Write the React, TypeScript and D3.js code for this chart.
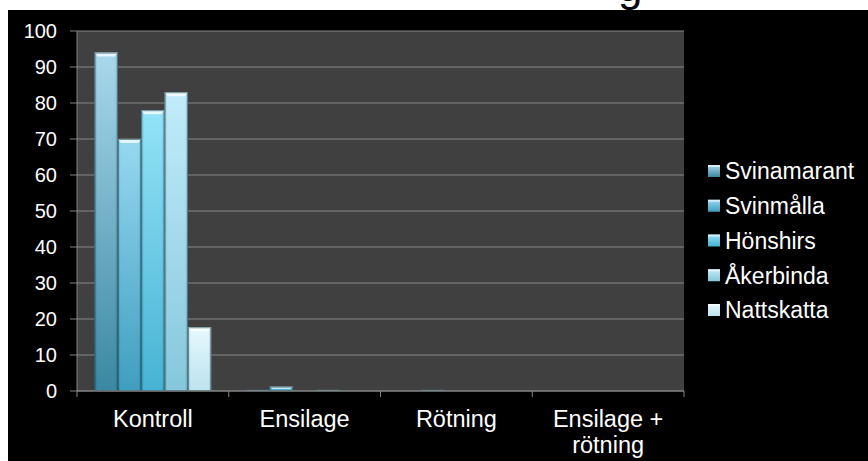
import React from "react";
import * as d3 from "d3";

const categories = ["Kontroll", "Ensilage", "Rötning", "Ensilage + rötning"];
const categoryLines = [["Kontroll"], ["Ensilage"], ["Rötning"], ["Ensilage +", "rötning"]];
const seriesNames = ["Svinamarant", "Svinmålla", "Hönshirs", "Åkerbinda", "Nattskatta"];
const svinamarant = [94, 0.3, 0, 0];
const svinmalla = [70, 1.2, 0.3, 0];
const honshirs = [78, 0, 0, 0];
const akerbinda = [83, 0.3, 0, 0];
const nattskatta = [17.7, 0, 0, 0];
const seriesValues = [svinamarant, svinmalla, honshirs, akerbinda, nattskatta];
const yTicks = [0, 10, 20, 30, 40, 50, 60, 70, 80, 90, 100];
const topColors = ["#a9d8ec", "#97d8f1", "#93e3f7", "#c2ecf9", "#e6f8fd"];
const bottomColors = ["#3a88a2", "#3f9ebf", "#47b3d4", "#86c7dc", "#bce3ef"];

const W = 868;
const H = 461;
const plot = { left: 77, right: 684, top: 31, bottom: 391 };
const FONT = "'Liberation Sans', Arial, sans-serif";

export default function App() {
  const x0 = d3.scaleBand<string>().domain(categories).range([plot.left, plot.right]).padding(0);
  const x1 = d3
    .scaleBand<string>()
    .domain(seriesNames)
    .range([0, x0.bandwidth()])
    .paddingInner(0)
    .paddingOuter(0.75);
  const y = d3.scaleLinear().domain([0, 100]).range([plot.bottom, plot.top]);

  const legendY = d3.scalePoint<string>().domain(seriesNames).range([171, 310]);

  return (
    <svg
      width={W}
      height={H}
      style={{ position: "absolute", left: 0, top: 0, display: "block" }}
      fontFamily={FONT}
    >
      <defs>
        {seriesNames.map((s, i) => (
          <linearGradient key={s} id={`g${i}`} x1="0" y1="0" x2="0" y2="1">
            <stop offset="0" stopColor={topColors[i]} />
            <stop offset="1" stopColor={bottomColors[i]} />
          </linearGradient>
        ))}
        {seriesNames.map((s, i) => (
          <linearGradient key={s + "h"} id={`h${i}`} x1="0" y1="0" x2="1" y2="0">
            <stop offset="0" stopColor="#000" stopOpacity={0.18} />
            <stop offset="0.12" stopColor="#000" stopOpacity={0} />
            <stop offset="0.88" stopColor="#000" stopOpacity={0} />
            <stop offset="1" stopColor="#000" stopOpacity={0.18} />
          </linearGradient>
        ))}
      </defs>
      <rect x={0} y={0} width={W} height={H} fill="#ffffff" />
      <text x={618} y={1} fontSize={44} fill="#000" fontFamily={FONT}>
        g
      </text>
      <rect x={8} y={10} width={W - 8} height={H - 10} fill="#000000" />

      {/* plot area */}
      <rect
        x={plot.left}
        y={plot.top}
        width={plot.right - plot.left}
        height={plot.bottom - plot.top}
        fill="#404040"
      />
      {yTicks.map((t) => (
        <g key={t}>
          <line x1={plot.left} x2={plot.right} y1={y(t)} y2={y(t)} stroke="#858585" strokeWidth={1} />
          <line x1={70} x2={plot.left} y1={y(t)} y2={y(t)} stroke="#858585" strokeWidth={1} />
          <text
            x={57}
            y={y(t)}
            dy="0.36em"
            textAnchor="end"
            fontSize={20}
            fill="#ffffff"
          >
            {t}
          </text>
        </g>
      ))}
      <line x1={plot.left} x2={plot.left} y1={plot.top} y2={plot.bottom + 6} stroke="#858585" />
      {categories.map((c) => (
        <line
          key={c}
          x1={(x0(c) as number) + x0.bandwidth()}
          x2={(x0(c) as number) + x0.bandwidth()}
          y1={plot.bottom}
          y2={plot.bottom + 6}
          stroke="#858585"
        />
      ))}

      {/* bars */}
      {categories.map((c, ci) => (
        <g key={c}>
          {seriesNames.map((s, si) => {
            const v = seriesValues[si][ci];
            if (!v) return null;
            const bx = (x0(c) as number) + (x1(s) as number);
            const bw = x1.bandwidth();
            const by = y(v);
            const bh = plot.bottom - by;
            const bev = Math.min(4, bh / 2);
            return (
              <g key={s}>
                <rect x={bx} y={by} width={bw} height={bh} fill={`url(#g${si})`} />
                <rect x={bx} y={by} width={bw} height={bh} fill={`url(#h${si})`} />
                <path
                  d={`M${bx},${by}L${bx + bw},${by}L${bx + bw - 3},${by + bev}L${bx + 3},${by + bev}Z`}
                  fill="#ffffff"
                  fillOpacity={0.75}
                />
                <rect
                  x={bx + 0.5}
                  y={by + 0.5}
                  width={bw - 1}
                  height={Math.max(0, bh - 1)}
                  fill="none"
                  stroke="#1f4f5e"
                  strokeOpacity={0.6}
                  strokeWidth={1}
                />
              </g>
            );
          })}
        </g>
      ))}
      <line x1={plot.left} x2={plot.right} y1={plot.bottom} y2={plot.bottom} stroke="#858585" />

      {/* x labels */}
      {categories.map((c, ci) => (
        <text
          key={c}
          x={(x0(c) as number) + x0.bandwidth() / 2}
          y={427}
          textAnchor="middle"
          fontSize={23.5}
          fill="#ffffff"
        >
          {categoryLines[ci].map((ln, li) => (
            <tspan key={li} x={(x0(c) as number) + x0.bandwidth() / 2} dy={li === 0 ? 0 : 26}>
              {ln}
            </tspan>
          ))}
        </text>
      ))}

      {/* legend */}
      {seriesNames.map((s, i) => {
        const ly = legendY(s) as number;
        return (
          <g key={s}>
            <rect x={708} y={ly - 6} width={12} height={12} fill={`url(#g${i})`} />
            <rect x={708} y={ly - 6} width={12} height={2} fill="#ffffff" fillOpacity={0.6} />
            <text x={725} y={ly} dy="0.36em" fontSize={23} fill="#ffffff">
              {s}
            </text>
          </g>
        );
      })}
    </svg>
  );
}
